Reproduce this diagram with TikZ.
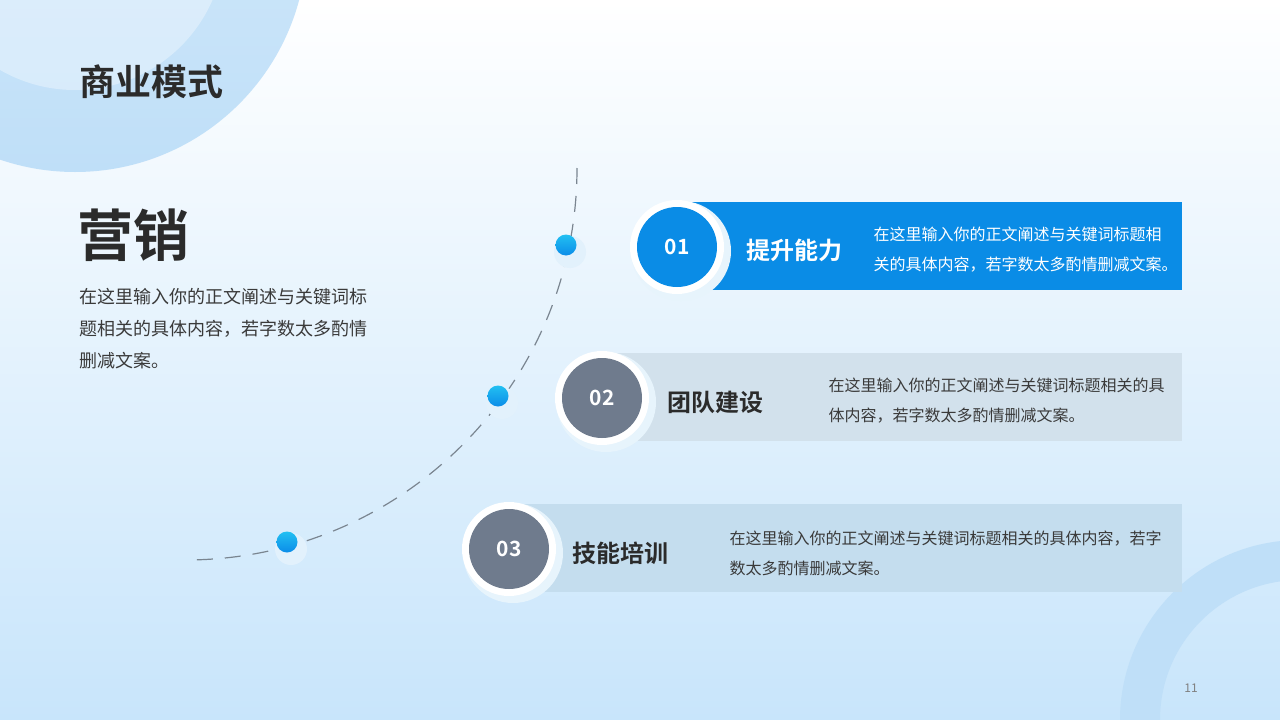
\documentclass[tikz,border=0pt]{standalone}
\usepackage{fontspec}
\setmainfont{Noto Sans CJK SC}[BoldFont={Noto Sans CJK SC Bold}]
\definecolor{bgtop}{HTML}{FFFFFF}
\definecolor{bgbot}{HTML}{C8E5FB}
\definecolor{ringblue}{HTML}{BFDFF8}
\definecolor{mainblue}{HTML}{0A8CE6}
\definecolor{slate}{HTML}{6F7B8D}
\definecolor{paleslate}{HTML}{D2E1EC}
\definecolor{paleblue}{HTML}{C4DDEE}
\definecolor{darktext}{HTML}{2B2B2B}
\definecolor{bodytext}{HTML}{3A3A3A}
\definecolor{dashgray}{HTML}{7A8590}
\definecolor{dotlight}{HTML}{22C0F2}
\definecolor{dotdark}{HTML}{0B8CE8}
\newcommand{\fsz}[1]{\fontsize{#1}{#1}\selectfont}
\tikzset{
  dotball/.style={circle,minimum size=21pt,inner sep=0pt,top color=dotlight,bottom color=dotdark},
  numring/.style={circle,fill=white,minimum size=94pt,inner sep=0pt},
  numdisc/.style={circle,minimum size=80pt,inner sep=0pt,text=white,font=\fsz{21}\bfseries},
  bartitle/.style={anchor=west,font=\fsz{24}\bfseries},
  bartext/.style={anchor=west,align=left,font=\fontsize{16}{30}\selectfont}
}
\begin{document}
\begin{tikzpicture}[x=1pt,y=-1pt]
\useasboundingbox (0,0) rectangle (1280,720);
\shade[top color=bgtop,bottom color=bgbot] (0,0) rectangle (1280,720);
% corner rings
\begin{scope}
\clip (0,0) rectangle (1280,720);
\shade[top color=ringblue!60,bottom color=ringblue] (75,-60) circle (232);
\fill[white,opacity=0.35] (75,-60) circle (150);
\fill[ringblue,even odd rule] (1300,720) circle (180) (1300,720) circle (140);
\end{scope}
% titles
\node[anchor=west,text=darktext,font=\fsz{36}\bfseries] (title) at (76,82) {商业模式};
\node[anchor=west,text=darktext,font=\fsz{56}\bfseries] (head) at (74,235) {营销};
\node[anchor=north west,align=left,text=bodytext,font=\fontsize{18}{32}\selectfont] (intro) at (76,285)
  {在这里输入你的正文阐述与关键词标\\题相关的具体内容，若字数太多酌情\\删减文案。};
% dashed arc
\draw[dashgray,line width=1.2pt,dash pattern=on 16pt off 12pt] (577,168) arc[start angle=0,end angle=90,radius=392];
\fill[mainblue!12] (570,252) circle (16) (502,403) circle (16) (291,549) circle (16);
\node[dotball] (d1) at (566,245) {};
\node[dotball] (d2) at (498,396) {};
\node[dotball] (d3) at (287,542) {};
% bars
\fill[mainblue] (690,202) rectangle (1182,290);
\fill[paleslate] (600,353) rectangle (1182,441);
\fill[paleblue] (510,504) rectangle (1182,592);
\fill[mainblue!10] (681,251) circle (50) (606,402) circle (50) (513,553) circle (50);
\node[numring] (r1) at (677,247) {};
\node[numring] (r2) at (602,398) {};
\node[numring] (r3) at (509,549) {};
\node[numdisc,fill=mainblue] (n1) at (r1) {01};
\node[numdisc,fill=slate] (n2) at (r2) {02};
\node[numdisc,fill=slate] (n3) at (r3) {03};
\node[bartitle,text=white] (t1) at (743,250) {提升能力};
\node[bartitle,text=darktext] (t2) at (664,402) {团队建设};
\node[bartitle,text=darktext] (t3) at (569,553) {技能培训};
\node[bartext,text=white] (p1) at (870,250) {在这里输入你的正文阐述与关键词标题相\\关的具体内容，若字数太多酌情删减文案。};
\node[bartext,text=bodytext] (p2) at (825,401) {在这里输入你的正文阐述与关键词标题相关的具\\体内容，若字数太多酌情删减文案。};
\node[bartext,text=bodytext] (p3) at (726,553) {在这里输入你的正文阐述与关键词标题相关的具体内容，若字\\数太多酌情删减文案。};
\node[text=gray,font=\fsz{12}] (page) at (1191,688) {11};
\end{tikzpicture}
\end{document}
